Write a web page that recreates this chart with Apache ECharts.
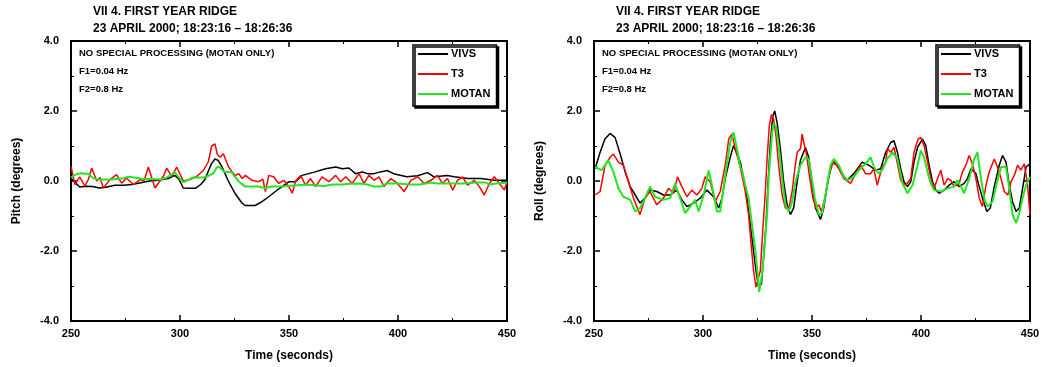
<!DOCTYPE html>
<html>
<head>
<meta charset="utf-8">
<script src="https://cdn.jsdelivr.net/npm/echarts@6/dist/echarts.min.js"></script>
<style>
  html, body { margin: 0; padding: 0; background: #fff; }
  #chart { width: 1045px; height: 367px; }
</style>
</head>
<body>
<div id="chart"></div>
<script>
// ridge run, 23 april 2000 - pitch / roll from three sensors
const titleLines = ['VII 4. FIRST YEAR RIDGE', '23 APRIL 2000; 18:23:16 \u2013 18:26:36'];
const notes = ['NO SPECIAL PROCESSING (MOTAN ONLY)', 'F1=0.04 Hz', 'F2=0.8 Hz'];
const seriesNames = ['VIVS', 'T3', 'MOTAN'];
const seriesColors = ['#000000', '#ff0000', '#22e622'];
const yTicks = [-4, -2, 0, 2, 4];

// pitch (deg) vs time (s)
const pitchVivs = [[250,0.08],[252,-0.05],[254,-0.17],[257,-0.15],[260,-0.16],[263,-0.2],[266,-0.18],[270,-0.12],[274,-0.12],[278,-0.1],[282,-0.05],[286,0.0],[290,0.02],[294.6,0.07],[297.6,0.16],[299.5,0.05],[301.5,-0.2],[304,-0.21],[307,-0.21],[309.5,-0.1],[311.3,0.03],[314.4,0.49],[316,0.63],[317.5,0.59],[319.2,0.41],[322,0.02],[325.2,-0.35],[328.4,-0.63],[330,-0.7],[334.5,-0.7],[337.6,-0.59],[340.7,-0.45],[343.7,-0.3],[346.8,-0.16],[350,-0.02],[353,-0.02],[356,0.16],[362,0.26],[366.8,0.35],[371.4,0.4],[374.4,0.35],[377.5,0.37],[380.5,0.21],[383.6,0.26],[386,0.21],[389,0.21],[392,0.26],[395,0.3],[398,0.21],[404,0.12],[409,0.15],[413.5,0.24],[416.5,0.12],[422.7,0.16],[425.7,0.12],[432,0.07],[438,0.07],[444,0.02],[450,0.02]];
const pitchT3 = [[250,0.42],[251.8,-0.1],[254,0.12],[256.4,-0.15],[258,0.05],[259.5,0.37],[261.8,0.0],[263.3,0.1],[264.8,-0.2],[267.9,0.04],[270.9,0.18],[273.2,-0.06],[275.5,0.08],[278.6,-0.1],[281.7,0.04],[283.5,0.0],[285.5,0.4],[287,0.1],[288.5,-0.2],[290.8,0.0],[292.5,0.15],[293.9,0.37],[296.2,0.13],[298.5,0.4],[300,0.2],[301.5,0.0],[304.6,0.04],[307.6,0.13],[310.7,0.3],[313,0.55],[314.5,1.0],[316,1.06],[317.2,0.75],[318.5,0.68],[319.9,0.78],[320.8,0.63],[322.3,0.4],[323.9,0.26],[325.4,0.16],[327,0.21],[328.5,0.07],[330,0.16],[333,0.02],[336,-0.02],[338,0.05],[339.2,-0.3],[340.7,0.16],[343,0.12],[345.3,-0.07],[347.6,0.02],[349.9,-0.16],[351.5,-0.35],[353,0.0],[355.3,0.16],[357.6,-0.12],[359.9,0.07],[362.2,-0.16],[365.2,0.12],[368.3,-0.02],[371.4,0.16],[373.7,-0.02],[376,0.12],[379,-0.07],[382.1,0.21],[384.4,-0.07],[386.7,0.16],[389,0.02],[391.3,0.12],[393.6,-0.16],[396.7,0.07],[399.8,-0.07],[402.8,-0.3],[405.9,0.02],[409,0.12],[412,-0.07],[415.1,0.02],[418.1,0.16],[420.4,-0.07],[422.7,0.07],[425.1,-0.26],[427.3,0.02],[429.6,0.12],[431.9,-0.12],[435,0.02],[437.3,-0.16],[439.6,-0.4],[441.9,-0.07],[444.2,0.12],[446.5,-0.07],[448.8,-0.26],[450,-0.02]];
const pitchMotan = [[250,0.1],[252.6,0.2],[255,0.22],[258,0.2],[260.2,0.08],[263,0.04],[268,0.04],[271,0.06],[274,0.08],[276.5,0.12],[279,0.1],[283,0.06],[287,0.06],[291,0.04],[294,0.1],[296.5,0.2],[297.7,0.25],[299.5,0.1],[301.5,-0.04],[304,0.04],[306,0.1],[310.7,0.1],[313,0.15],[315.3,0.22],[317,0.4],[318,0.4],[320.5,0.26],[323.5,0.26],[327,-0.02],[330,-0.16],[336,-0.16],[339,-0.2],[342,-0.16],[346,-0.16],[350,-0.14],[354,-0.12],[358,-0.1],[362,-0.12],[366,-0.14],[370,-0.1],[374,-0.1],[378,-0.08],[382.6,-0.07],[386,-0.1],[389,-0.16],[392,-0.16],[395,-0.07],[400,-0.07],[405,-0.1],[410,-0.1],[415,-0.04],[418,-0.07],[424,-0.07],[430,-0.07],[436,-0.04],[440,-0.04],[442,-0.1],[445,-0.07],[450,-0.05]];

// roll (deg) vs time (s)
const rollVivs = [[250.5,0.35],[252.8,0.82],[255,1.2],[257.4,1.36],[259.7,1.24],[262,0.77],[264.3,0.26],[266.6,-0.16],[268.9,-0.4],[271.1,-0.63],[273.4,-0.49],[275.7,-0.26],[278.8,-0.3],[281.9,-0.4],[284.9,-0.4],[288,-0.26],[290.3,-0.54],[292.6,-0.73],[295.7,-0.63],[298.7,-0.49],[301.8,-0.26],[304.8,-0.45],[307.2,-0.77],[308.7,-0.49],[310.2,0.07],[312.5,0.68],[314,1.01],[315.6,0.77],[317.1,0.55],[318.6,0.07],[320.2,-0.49],[321.7,-1.25],[323.2,-2.0],[324.3,-2.56],[325.5,-3.03],[326.8,-2.95],[327.8,-2.18],[328.9,-1.25],[329.8,-0.12],[330.9,1.1],[332,1.85],[332.9,2.0],[334,1.67],[335.5,0.92],[337,-0.02],[338.6,-0.68],[340.1,-0.96],[341.6,-0.77],[343.2,-0.02],[344.7,0.59],[347,0.96],[348.5,0.68],[350.1,-0.12],[351.6,-0.77],[353.9,-1.1],[355.4,-0.77],[357,-0.12],[359.2,0.54],[361.5,0.45],[363.8,0.21],[366.1,0.02],[369.2,0.21],[373,0.54],[376.1,0.45],[379.2,0.31],[381.5,0.35],[383.8,0.82],[386.1,1.1],[387.6,1.15],[389.2,0.82],[390.7,0.35],[392.2,-0.02],[393.8,-0.16],[395.3,-0.02],[396.8,0.54],[398.4,0.96],[400.7,1.2],[402.2,1.01],[403.7,0.45],[405.3,-0.02],[406.8,-0.26],[408.3,-0.35],[410.6,-0.26],[412.9,-0.12],[415.2,-0.02],[417.5,-0.16],[419.8,-0.07],[421.3,0.07],[422.9,0.35],[425.2,0.21],[426.7,-0.16],[428.2,-0.49],[430.2,-0.87],[431.8,-0.77],[433.6,-0.16],[435.9,0.45],[437.4,0.73],[439,0.54],[440.5,-0.12],[442,-0.59],[443.6,-0.87],[445.1,-0.77],[446.6,-0.21],[448.2,0.4],[450,0.49]];
const rollT3 = [[250.5,-0.4],[252.8,-0.3],[255.1,0.45],[257.4,0.68],[258.9,0.77],[261.2,0.54],[263.5,0.45],[265.8,-0.02],[268.1,-0.49],[271.1,-0.96],[273.4,-0.49],[275.7,-0.3],[278.8,-0.68],[281.9,-0.49],[284.2,-0.21],[286.5,-0.35],[288.3,0.12],[290.3,-0.16],[292.6,-0.45],[294.9,-0.26],[297.2,-0.4],[299.5,-0.21],[301,0.12],[303.3,-0.02],[305.6,-0.59],[307.9,-0.3],[310.2,0.45],[311.8,1.2],[313.3,1.34],[314.8,0.92],[316.3,0.59],[317.9,0.16],[319.4,-0.3],[320.9,-0.96],[322.2,-1.9],[323.2,-2.56],[324.3,-3.03],[325.2,-3.08],[326.3,-2.56],[327.4,-1.44],[328.6,-0.3],[329.4,0.63],[330.4,1.57],[331.4,1.9],[332.4,1.76],[333.5,1.29],[334.7,0.45],[336.3,-0.4],[337.8,-0.77],[339.3,-0.82],[340.9,-0.3],[342.1,0.35],[343.2,0.82],[344.7,0.92],[345.5,1.34],[346.2,1.1],[347.3,0.82],[348.8,0.16],[350.4,-0.49],[351.9,-0.77],[353.1,-0.68],[354.3,-0.87],[355.9,-0.49],[357.7,0.16],[360,0.59],[362.3,0.35],[364.6,0.07],[367.7,-0.07],[370,0.21],[372.3,0.45],[374.6,0.21],[376.9,0.21],[378.4,0.35],[379.9,-0.12],[382.2,0.4],[383.8,0.54],[384.6,0.92],[386.1,0.82],[387.6,0.96],[389.2,0.49],[390.7,0.02],[393,-0.12],[395.3,0.07],[396.8,0.82],[398.7,1.2],[399.9,1.24],[401.4,1.01],[403,0.54],[404.5,0.07],[406,-0.21],[407.6,0.07],[409.1,0.31],[410.6,-0.12],[412.2,0.07],[413.7,0.02],[415.2,-0.16],[417.5,-0.07],[419,0.26],[420.6,0.45],[422.1,0.73],[423.6,0.49],[425.2,0.07],[426.7,-0.49],[428.2,-0.73],[429.8,-0.12],[431.3,0.26],[433.6,0.63],[435.1,0.4],[436.7,0.07],[438.2,-0.3],[439.8,-0.4],[441.3,-0.02],[442.8,0.16],[444.3,0.45],[445.8,0.31],[447.4,0.49],[448.9,-0.12],[450,-0.96]];
const rollMotan = [[250.5,0.4],[253.5,0.31],[256.6,0.59],[258.9,0.26],[261.2,-0.21],[263.5,-0.45],[266.6,-0.54],[268.9,-0.87],[271.1,-0.77],[273.4,-0.49],[275.7,-0.16],[278,-0.45],[281.9,-0.54],[284.9,-0.49],[287.2,-0.07],[289.5,-0.49],[291.8,-0.92],[294.1,-0.73],[296.4,-0.54],[298,-0.87],[300.3,-0.4],[302.6,0.3],[304.1,-0.12],[306.4,-0.87],[307.9,-0.87],[309.5,-0.16],[311,0.49],[312.5,1.1],[314,1.39],[315.6,0.92],[317.1,0.4],[317.9,0.31],[319.4,-0.12],[320.9,-0.49],[322.5,-1.25],[324,-2.0],[325.2,-2.75],[325.8,-3.17],[327.1,-2.65],[328.3,-1.81],[329.4,-0.96],[330.1,0.07],[331.7,1.39],[332.4,1.62],[333.5,1.57],[334.7,1.01],[336.3,0.07],[337.8,-0.68],[339.3,-0.87],[340.9,-0.59],[342.4,-0.02],[344.7,0.45],[347,0.68],[348.5,0.63],[349.7,0.16],[351.3,-0.49],[353.1,-0.96],[354.6,-0.92],[356.2,-0.4],[358.5,0.45],[360,0.63],[362.3,0.45],[364.6,0.12],[366.1,0.02],[369.2,0.12],[371.5,0.31],[374.6,0.49],[376.9,0.68],[378.4,0.4],[380.7,0.21],[382.5,0.35],[384.5,0.63],[386.9,0.82],[389.2,0.63],[391.5,-0.07],[393.8,-0.35],[396.1,-0.12],[398.4,0.45],[399.9,0.87],[401.4,0.68],[403,0.26],[404.5,-0.07],[406,-0.26],[409.1,-0.3],[412.2,-0.21],[415.2,-0.16],[416.7,0.02],[418.3,-0.16],[419.8,-0.35],[422.1,0.07],[424.4,0.63],[425.9,0.82],[427.5,0.07],[429,-0.49],[430.5,-0.73],[432.8,-0.59],[434.4,-0.16],[436.7,0.4],[439,0.4],[440.5,-0.21],[442,-0.96],[443.6,-1.2],[445.1,-0.92],[446.6,-0.49],[448.2,-0.12],[450,0.12]];

const FONT = 'Liberation Sans, Arial, sans-serif';
const panels = [
    {left: 71, yName: 'Pitch (degrees)', data: [pitchVivs, pitchT3, pitchMotan]},
    {left: 594, yName: 'Roll (degrees)', data: [rollVivs, rollT3, rollMotan]},
];

const myChart = echarts.init(document.getElementById('chart'));

let grid = [], xAxis = [], yAxis = [], series = [], legend = [], graphic = [];

panels.forEach((p, i) => {
    grid.push({left: p.left, top: 41, width: 436, height: 284, show: true, borderColor: '#000', borderWidth: 2, backgroundColor: 'transparent'});

    const tick = {show: true, inside: true, length: 6, lineStyle: {color: '#000', width: 1.5}};
    const minor = {show: true, splitNumber: 2, length: 3, lineStyle: {color: '#000', width: 1}};
    const noLine = {show: false, onZero: false};
    // bottom + top x axes, left + right y axes (the top/right ones only carry ticks)
    xAxis.push({
        type: 'value', gridIndex: i, min: 250, max: 450, interval: 50, position: 'bottom',
        name: 'Time (seconds)', nameLocation: 'middle', nameGap: 29,
        nameTextStyle: {fontFamily: FONT, fontWeight: 'bold', fontSize: 12, color: '#000'},
        axisLine: noLine, axisTick: tick, minorTick: minor, splitLine: {show: false},
        axisLabel: {fontFamily: FONT, fontWeight: 'bold', fontSize: 11, color: '#000', margin: 7},
    });
    xAxis.push({
        type: 'value', gridIndex: i, min: 250, max: 450, interval: 50, position: 'top',
        axisLine: noLine, axisTick: tick, minorTick: minor, splitLine: {show: false},
        axisLabel: {show: false},
    });
    yAxis.push({
        type: 'value', gridIndex: i, min: yTicks[0], max: yTicks[yTicks.length - 1], interval: 2, position: 'left',
        name: p.yName, nameLocation: 'middle', nameGap: 48,
        nameTextStyle: {fontFamily: FONT, fontWeight: 'bold', fontSize: 12, color: '#000'},
        axisLine: noLine, axisTick: tick, minorTick: minor, splitLine: {show: false},
        axisLabel: {fontFamily: FONT, fontWeight: 'bold', fontSize: 11, color: '#000', margin: 12,
            formatter: v => v.toFixed(1)},
    });
    yAxis.push({
        type: 'value', gridIndex: i, min: yTicks[0], max: yTicks[yTicks.length - 1], interval: 2, position: 'right',
        axisLine: noLine, axisTick: tick, minorTick: minor, splitLine: {show: false},
        axisLabel: {show: false},
    });

    p.data.forEach((d, k) => {
        series.push({
            name: seriesNames[k], type: 'line', xAxisIndex: i * 2, yAxisIndex: i * 2,
            data: d, showSymbol: false, symbol: 'none',
            lineStyle: {color: seriesColors[k], width: k === 2 ? 2 : 1.5},
            itemStyle: {color: seriesColors[k]},
            z: 3 + k,
        });
    });

    legend.push({
        orient: 'vertical', left: p.left + 342, top: 45,
        data: seriesNames, icon: 'rect', itemWidth: 30, itemHeight: 2, itemGap: 8,
        padding: [3, 6, 6, 5], selectedMode: false,
        backgroundColor: '#fff', borderColor: '#000', borderWidth: 1.5,
        shadowColor: '#000', shadowBlur: 0, shadowOffsetX: 2, shadowOffsetY: 2,
        textStyle: {fontFamily: FONT, fontWeight: 'bold', fontSize: 11, color: '#000', lineHeight: 12, padding: [0, 0, 0, -2]},
    });

    titleLines.forEach((t, j) => {
        graphic.push({type: 'text', left: p.left + 22, top: 6 + j * 17,
            style: {text: t, fontFamily: FONT, fontWeight: 'bold', fontSize: 12, fill: '#000'}});
    });
    notes.forEach((t, j) => {
        graphic.push({type: 'text', left: p.left + 8, top: 48 + j * 18,
            style: {text: t, fontFamily: FONT, fontWeight: 'bold', fontSize: 9.5, fill: '#000'}});
    });
});

const option = {
    animation: false,
    backgroundColor: '#fff',
    grid: grid,
    xAxis: xAxis,
    yAxis: yAxis,
    legend: legend,
    series: series,
    graphic: graphic,
};
myChart.setOption(option);
</script>
</body>
</html>
